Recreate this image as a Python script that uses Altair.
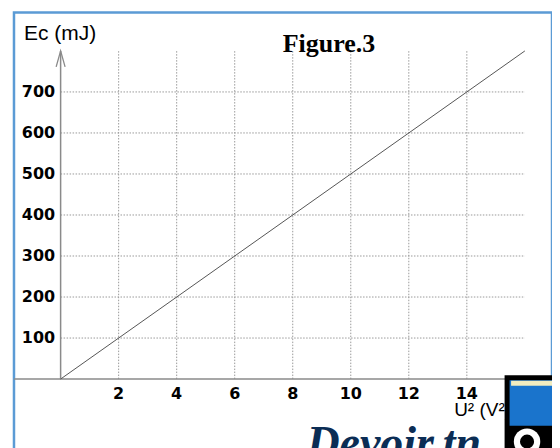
import altair as alt
import pandas as pd

# ---- data ----
u2_values = [0, 16]          # U² (V²)
ec_values = [0, 800]         # Ec (mJ)
x_ticks = [2, 4, 6, 8, 10, 12, 14]
y_ticks = [100, 200, 300, 400, 500, 600, 700]
x_max = 16
y_max = 800

line_df = pd.DataFrame({"u2": u2_values, "ec": ec_values})
xt_df = pd.DataFrame({"v": x_ticks, "label": [str(v) for v in x_ticks],
                      "y0": [0] * len(x_ticks), "y1": [y_max] * len(x_ticks)})
yt_df = pd.DataFrame({"v": y_ticks, "label": [str(v) for v in y_ticks],
                      "x0": [0] * len(y_ticks), "x1": [x_max] * len(y_ticks)})
origin_df = pd.DataFrame({"x": [0], "y": [0], "ytop": [y_max]})
one_df = pd.DataFrame({"a": [0]})

W, H = 539, 458
XS = alt.Scale(domain=[-1.607, 16.935], nice=False, zero=False)
YS = alt.Scale(domain=[-220.7, 893.9], nice=False, zero=False)

GRID = "#9a9a9a"
AXIS = "#8a8a8a"

hgrid = alt.Chart(yt_df).mark_rule(color=GRID, strokeWidth=1, strokeDash=[1.5, 1.5]).encode(
    x=alt.X("x0:Q", scale=XS, axis=None), x2="x1:Q",
    y=alt.Y("v:Q", scale=YS, axis=None))
vgrid = alt.Chart(xt_df).mark_rule(color=GRID, strokeWidth=1, strokeDash=[1.5, 1.5]).encode(
    x=alt.X("v:Q", scale=XS, axis=None),
    y=alt.Y("y0:Q", scale=YS, axis=None), y2="y1:Q")

xaxis = alt.Chart(origin_df).mark_rule(color=AXIS, strokeWidth=1.5).encode(
    y=alt.Y("y:Q", scale=YS, axis=None), x=alt.value(0), x2=alt.value(W))
yaxis = alt.Chart(origin_df).mark_rule(color=AXIS, strokeWidth=1.5).encode(
    x=alt.X("x:Q", scale=XS, axis=None),
    y=alt.Y("y:Q", scale=YS, axis=None), y2="ytop:Q")
arrow = alt.Chart(origin_df).mark_point(
    shape="M-0.56,2L0,0L0.56,2", filled=False, size=256, color=AXIS, strokeWidth=1.3, opacity=1
).encode(x=alt.X("x:Q", scale=XS, axis=None), y=alt.Y("ytop:Q", scale=YS, axis=None))

line = alt.Chart(line_df).mark_line(color="#555555", strokeWidth=1).encode(
    x=alt.X("u2:Q", scale=XS, axis=None), y=alt.Y("ec:Q", scale=YS, axis=None))

ylab = alt.Chart(yt_df).mark_text(
    align="right", baseline="middle", dx=-5.5, font="DejaVu Sans", fontWeight="bold",
    fontSize=16, color="black").encode(
    x=alt.X("x0:Q", scale=XS, axis=None), y=alt.Y("v:Q", scale=YS, axis=None), text="label:N")
xlab = alt.Chart(xt_df).mark_text(
    align="center", baseline="middle", dy=15, font="DejaVu Sans", fontWeight="bold",
    fontSize=16, color="black").encode(
    x=alt.X("v:Q", scale=XS, axis=None), y=alt.Y("y0:Q", scale=YS, axis=None), text="label:N")

ytitle = alt.Chart(one_df).mark_text(
    align="left", baseline="alphabetic", font="Liberation Sans", fontSize=21, color="black"
).encode(x=alt.value(10), y=alt.value(27.5), text=alt.value("Ec (mJ)"))
ftitle = alt.Chart(one_df).mark_text(
    align="center", baseline="alphabetic", font="Liberation Serif", fontWeight="bold",
    fontSize=26, color="black"
).encode(x=alt.value(315.5), y=alt.value(40), text=alt.value("Figure.3"))
xtitle = alt.Chart(one_df).mark_text(
    align="left", baseline="middle", font="Liberation Sans", fontSize=19, color="black"
).encode(x=alt.value(441), y=alt.value(398), text=alt.value("U² (V²)"))

# watermark
wm = alt.Chart(one_df).mark_text(
    align="left", baseline="alphabetic", font="Liberation Serif", fontWeight="bold",
    fontStyle="italic", fontSize=46, color="#0b2d55"
).encode(x=alt.value(293), y=alt.value(446), text=alt.value("Devoir.tn"))
logo_box = alt.Chart(one_df).mark_rect(color="#1a74cc", stroke="black", strokeWidth=5).encode(
    x=alt.value(494), x2=alt.value(560), y=alt.value(366), y2=alt.value(470))
logo_strip = alt.Chart(one_df).mark_rect(color="#f1ecc0").encode(
    x=alt.value(498), x2=alt.value(556), y=alt.value(369), y2=alt.value(374))
logo_base = alt.Chart(one_df).mark_rect(color="black").encode(
    x=alt.value(494), x2=alt.value(560), y=alt.value(414), y2=alt.value(470))
logo_eye = alt.Chart(one_df).mark_point(shape="circle", filled=True, color="white", size=700, opacity=1).encode(
    x=alt.value(514), y=alt.value(430))
logo_pupil = alt.Chart(one_df).mark_point(shape="circle", filled=True, color="black", size=200, opacity=1).encode(
    x=alt.value(514), y=alt.value(430))

chart = alt.layer(
    hgrid, vgrid, xaxis, yaxis, arrow, line, ylab, xlab, ytitle, ftitle, xtitle,
    wm, logo_box, logo_strip, logo_base, logo_eye, logo_pupil
).properties(
    width=W, height=H,
    autosize=alt.AutoSizeParams(type="none"),
    padding={"left": 6, "top": 4, "right": 0, "bottom": 0},
    background="white"
).configure_view(stroke="#5b9bd5", strokeWidth=2.5)

chart.save("out.html", embed_options={"renderer": "svg", "actions": False})
